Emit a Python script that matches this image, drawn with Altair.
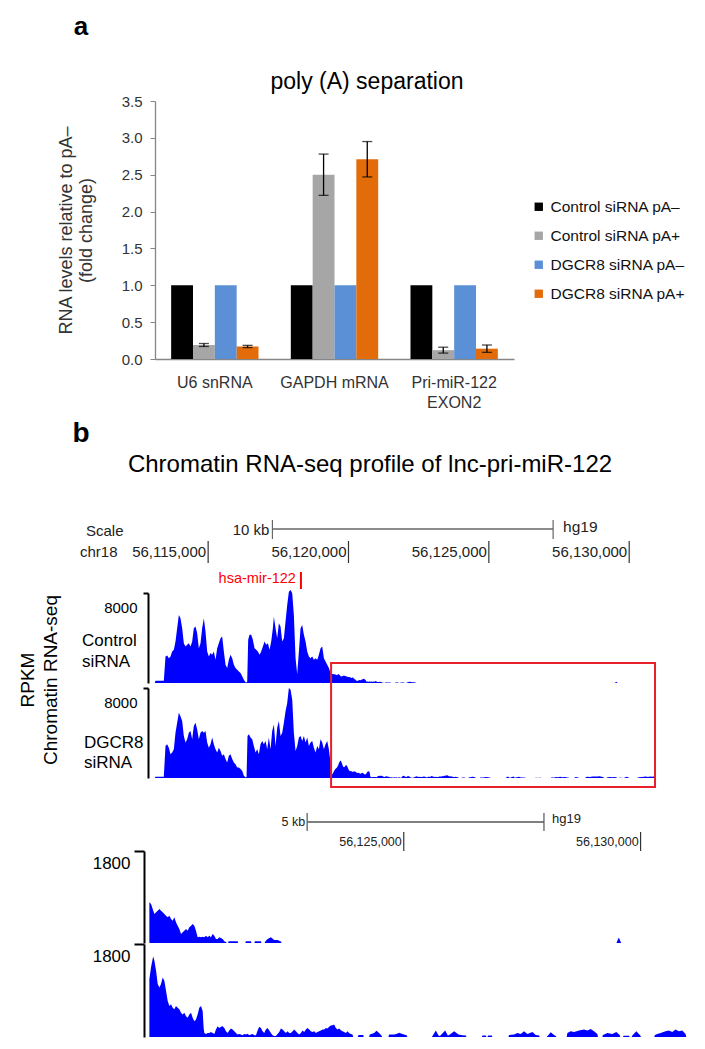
import altair as alt
import pandas as pd

REG = "Liberation Sans, Arial, sans-serif"

W, H = 689, 1033


def P(v):
    # page pixel -> plot pixel (page has an 8px margin)
    return v - 8


# ------------------------------------------------------------------ panel a data
genes = ["U6 snRNA", "GAPDH mRNA", "Pri-miR-122 EXON2"]
series = ["Control siRNA pA–", "Control siRNA pA+", "DGCR8 siRNA pA–", "DGCR8 siRNA pA+"]
series_colors = ["#000000", "#a6a6a6", "#5b8fd6", "#e36c0a"]
ctrl_minus = [1.0, 1.0, 1.0]
ctrl_plus = [0.19, 2.50, 0.12]
ctrl_plus_err = [0.02, 0.28, 0.04]
dgcr8_minus = [1.0, 1.0, 1.0]
dgcr8_plus = [0.17, 2.71, 0.14]
dgcr8_plus_err = [0.015, 0.24, 0.05]
y_ticks_a = [0.0, 0.5, 1.0, 1.5, 2.0, 2.5, 3.0, 3.5]

# ------------------------------------------------------------------ panel b data (chr18, hg19)
ctrl_block_pos = [
    56113100, 56113124, 56113421, 56113481, 56113540, 56113600, 56113659, 56113718, 56113778, 56113837,
    56113896, 56113956, 56114015, 56114075, 56114134, 56114193, 56114253, 56114312, 56114372, 56114431,
    56114490, 56114550, 56114609, 56114669, 56114728, 56114787, 56114847, 56114906, 56114966, 56115025,
    56115084, 56115144, 56115203, 56115263, 56115322, 56115381, 56115441, 56115500, 56115560, 56115619,
    56115678, 56115738, 56115797, 56115857, 56115916, 56115975, 56116035, 56116094, 56116154, 56116213,
    56116272, 56116332, 56116391, 56116427, 56116474, 56116534, 56116593, 56116653, 56116712, 56116771,
    56116831, 56116890, 56116950, 56117009, 56117068, 56117128, 56117187, 56117247, 56117306, 56117342,
    56117401, 56117460, 56117520, 56117579, 56117639, 56117698, 56117757, 56117817, 56117876, 56117936,
    56117995, 56118054, 56118114, 56118173, 56118233, 56118292, 56118351, 56118411, 56118470, 56118530,
    56118589, 56118648, 56118708, 56118767, 56118827, 56118886, 56118945, 56119005, 56119064, 56119124,
    56119183, 56119242, 56119302, 56119361, 56119420, 56119500, 56119560,
]
ctrl_block_val = [
    0, 210, 210, 2360, 2450, 2210, 2360, 2800, 2950, 3690,
    4870, 6050, 5750, 4870, 3540, 3250, 3390, 3540, 3250, 3690,
    4870, 5020, 4430, 3100, 3540, 4870, 5750, 4570, 2800, 2360,
    2660, 2510, 2800, 2070, 3100, 3540, 3980, 4130, 2800, 1620,
    1330, 2070, 2510, 2210, 1620, 1330, 1180, 1030, 890, 590,
    300, 60, 60, 3840, 4280, 4280, 3840, 3100, 2950, 2800,
    2510, 2800, 3250, 3690, 3390, 3540, 2950, 3690, 4870, 5900,
    4870, 3980, 5310, 5020, 3690, 3980, 5460, 6930, 8110, 8260,
    7970, 6050, 2210, 800, 2800, 4870, 5160, 4280, 3690, 2800,
    2360, 2210, 2360, 2070, 2210, 2070, 2510, 3100, 3250, 2210,
    1920, 1620, 1330, 890, 800, 780, 740,
]
ctrl_tail_pos = [
    56119594, 56119629, 56119664, 56119699, 56119734, 56119770, 56119805, 56119840, 56119875, 56119910,
    56119945, 56119980, 56120016, 56120051, 56120086, 56120121, 56120156, 56120191, 56120226, 56120262,
    56120297, 56120332, 56120367, 56120402, 56120437, 56120473, 56120508, 56120543, 56120578, 56120613,
    56120648, 56120683, 56120719, 56120754, 56120789, 56120824, 56120859, 56120894, 56120929, 56120965,
    56121000, 56121035, 56121070, 56121105, 56121140, 56121176, 56121211, 56121246, 56121262, 56121290,
    56121302, 56121492, 56121505, 56121655, 56121668, 56121773, 56121785, 56121845, 56121857, 56121984,
    56121996, 56122062, 56122075, 56122125, 56122195, 56122265, 56122335, 56122406, 56122420, 56129490,
    56129540, 56129590,
]
ctrl_tail_val = [
    700, 795, 763, 665, 567, 600, 632, 665, 632, 600,
    567, 535, 502, 535, 469, 437, 502, 404, 339, 274,
    176, 209, 241, 274, 241, 306, 339, 372, 339, 241,
    111, 124, 111, 124, 111, 143, 111, 143, 111, 176,
    143, 78, 78, 111, 98, 78, 33, 20, 0, 0,
    35, 35, 0, 0, 35, 35, 0, 0, 35, 35,
    0, 0, 30, 78, 111, 59, 59, 30, 0, 0,
    110, 0,
]
dgcr8_block_pos = [
    56113100, 56113124, 56113421, 56113481, 56113540, 56113600, 56113659, 56113718, 56113778, 56113837,
    56113896, 56113956, 56114015, 56114075, 56114134, 56114193, 56114253, 56114312, 56114372, 56114431,
    56114490, 56114550, 56114609, 56114669, 56114728, 56114787, 56114847, 56114906, 56114966, 56115025,
    56115084, 56115144, 56115203, 56115263, 56115322, 56115381, 56115441, 56115500, 56115560, 56115619,
    56115678, 56115738, 56115797, 56115857, 56115916, 56115975, 56116035, 56116094, 56116154, 56116213,
    56116272, 56116332, 56116368, 56116403, 56116451, 56116510, 56116569, 56116629, 56116688, 56116748,
    56116807, 56116866, 56116926, 56116985, 56117045, 56117104, 56117163, 56117223, 56117282, 56117342,
    56117401, 56117460, 56117520, 56117579, 56117639, 56117698, 56117757, 56117817, 56117876, 56117936,
    56117995, 56118054, 56118114, 56118173, 56118233, 56118292, 56118351, 56118411, 56118470, 56118530,
    56118589, 56118648, 56118708, 56118767, 56118827, 56118886, 56118945, 56119005, 56119064, 56119124,
    56119183, 56119242, 56119302, 56119361, 56119420, 56119480, 56119530,
]
dgcr8_block_val = [
    0, 120, 120, 2850, 3000, 2700, 2120, 2260, 2560, 4030,
    4910, 5790, 5500, 5060, 3730, 3150, 3440, 4030, 4170, 3440,
    4620, 4910, 4320, 3440, 4030, 4170, 4030, 4170, 3150, 2700,
    3000, 3590, 3000, 2560, 2260, 2700, 2410, 1970, 2120, 1680,
    1380, 1970, 2120, 1680, 1380, 1230, 940, 940, 790, 650,
    200, 60, 60, 3730, 3880, 3590, 3440, 2850, 2260, 2560,
    2120, 3000, 3290, 3000, 3290, 2560, 3590, 2560, 4170, 4760,
    2850, 4470, 5060, 3730, 4030, 4910, 5940, 6670, 8000, 7850,
    6970, 4030, 2410, 2850, 3590, 3730, 3290, 3730, 3150, 3590,
    2850, 3150, 3290, 2700, 2260, 2850, 2560, 3440, 3150, 2560,
    3000, 3290, 2560, 1380, 300, 600, 800,
]
dgcr8_tail_pos = [
    56119573, 56119594, 56119629, 56119664, 56119699, 56119713, 56119734, 56119770, 56119805, 56119840,
    56119875, 56119910, 56119945, 56119980, 56120016, 56120051, 56120086, 56120121, 56120156, 56120191,
    56120226, 56120262, 56120297, 56120332, 56120367, 56120402, 56120437, 56120473, 56120508, 56120543,
    56120578, 56120613, 56120648, 56120683, 56120719, 56120754, 56120775, 56120789, 56120824, 56120859,
    56120894, 56120929, 56120965, 56121000, 56121035, 56121070, 56121105, 56121140, 56121176, 56121211,
    56121246, 56121281, 56121316, 56121351, 56121386, 56121422, 56121457, 56121492, 56121527, 56121562,
    56121597, 56121632, 56121668, 56121703, 56121738, 56121773, 56121808, 56121843, 56121879, 56121914,
    56121949, 56121984, 56122019, 56122054, 56122089, 56122125, 56122160, 56122195, 56122230, 56122265,
    56122300, 56122335, 56122371, 56122406, 56122441, 56122476, 56122511, 56122546, 56122582, 56122617,
    56122652, 56122687, 56122722, 56122757, 56122792, 56122828, 56122863, 56122898, 56122933, 56122968,
    56123003, 56123038, 56123074, 56123109, 56123144, 56123179, 56123214, 56123249, 56123285, 56123320,
    56123355, 56123390, 56123425, 56123460, 56123495, 56123531, 56123566, 56123601, 56123636, 56123671,
    56123706, 56123741, 56123777, 56123812, 56123847, 56123882, 56123917, 56123935, 56124030, 56124044,
    56124142, 56124156, 56124269, 56124283, 56124374, 56124423, 56124480, 56124529, 56124545, 56124676,
    56124690, 56124796, 56124845, 56124901, 56124972, 56125060, 56125075, 56125593, 56125607, 56125677,
    56125734, 56125762, 56125804, 56125874, 56125930, 56125959, 56126064, 56126155, 56126240, 56126310,
    56126324, 56126647, 56126662, 56126732, 56126746, 56126767, 56126781, 56126858, 56126872, 56127210,
    56127224, 56127329, 56127400, 56127470, 56127540, 56127610, 56127716, 56127786, 56127857, 56127871,
    56128018, 56128046, 56128103, 56128173, 56128208, 56128222, 56128440, 56128454, 56128524, 56128595,
    56128700, 56128806, 56128876, 56128946, 56129017, 56129087, 56129101, 56129192, 56129206, 56129298,
    56129403, 56129488, 56129558, 56129572, 56129628, 56129642, 56129755, 56129769, 56129811, 56129825,
    56129910, 56129994, 56130008, 56130289, 56130303, 56130352, 56130423, 56130528, 56130598, 56130669,
    56130739, 56130809, 56130880, 56130950, 56130964,
]
dgcr8_tail_val = [
    893, 958, 1121, 1350, 1513, 1558, 1480, 1284, 1024, 958,
    1024, 1154, 1089, 893, 698, 600, 632, 567, 535, 600,
    567, 535, 469, 437, 469, 404, 372, 437, 469, 372,
    306, 339, 437, 567, 600, 502, 176, 78, 59, 78,
    78, 98, 78, 59, 143, 209, 176, 196, 209, 176,
    111, 78, 124, 163, 143, 111, 78, 46, 59, 46,
    33, 59, 46, 65, 33, 46, 59, 33, 33, 124,
    196, 176, 111, 78, 143, 176, 124, 78, 33, 20,
    20, 59, 98, 163, 143, 111, 78, 111, 78, 78,
    111, 143, 111, 78, 46, 78, 124, 98, 143, 176,
    143, 111, 98, 111, 78, 98, 111, 124, 143, 143,
    176, 163, 196, 222, 228, 241, 176, 143, 163, 130,
    111, 98, 78, 111, 78, 59, 46, 0, 0, 40,
    40, 0, 0, 46, 78, 120, 78, 30, 0, 0,
    46, 46, 59, 80, 59, 33, 0, 0, 20, 124,
    30, 20, 60, 124, 30, 40, 110, 50, 35, 30,
    0, 0, 30, 30, 0, 0, 30, 30, 0, 0,
    40, 50, 78, 60, 110, 60, 98, 40, 30, 0,
    0, 30, 91, 40, 20, 0, 0, 78, 111, 98,
    124, 143, 124, 156, 111, 60, 0, 0, 40, 78,
    60, 98, 40, 0, 0, 26, 26, 0, 0, 30,
    111, 30, 0, 0, 40, 59, 78, 111, 124, 98,
    143, 111, 124, 60, 0,
]

ruler_top_pos = [56115000, 56120000, 56125000, 56130000]
ruler_top_lab = ["56,115,000", "56,120,000", "56,125,000", "56,130,000"]
scalebar_top = [56117290, 56127290]      # 10 kb
ruler_bot_pos = [56125000, 56130000]
ruler_bot_lab = ["56,125,000", "56,130,000"]
scalebar_bot = [56122960, 56127960]      # 5 kb
mir122_pos = [56118306]
zoom_region = [56119380, 56130920]       # red box
top_max, bot_max = 8000, 1800

# ------------------------------------------------------------------ frames
rows = []
vals = {series[0]: ctrl_minus, series[1]: ctrl_plus, series[2]: dgcr8_minus, series[3]: dgcr8_plus}
errs = {series[1]: ctrl_plus_err, series[3]: dgcr8_plus_err}
for s in series:
    for i, g in enumerate(genes):
        v = vals[s][i]
        e = errs.get(s)
        rows.append({"gene": g, "series": s, "value": v,
                     "lo": (v - e[i]) if e else None, "hi": (v + e[i]) if e else None})
df_a = pd.DataFrame(rows)
df_err = df_a.dropna(subset=["lo"]).copy()

df_ctrl = pd.DataFrame({"pos": ctrl_block_pos + ctrl_tail_pos, "val": ctrl_block_val + ctrl_tail_val})
df_dg = pd.DataFrame({"pos": dgcr8_block_pos + dgcr8_tail_pos, "val": dgcr8_block_val + dgcr8_tail_val})

# ------------------------------------------------------------------ scales
XA = alt.Scale(domain=genes, range=[P(155), P(514)], paddingInner=0.27, paddingOuter=0.135)
XOA = alt.Scale(domain=series, paddingInner=0, paddingOuter=0)
YA = alt.Scale(domain=[0, 3.5], range=[P(359), P(101)], nice=False)
TOPX = alt.Scale(domain=[56113000, 56131240], range=[P(152), P(664)], nice=False, zero=False)
BOTX = alt.Scale(domain=[56119600, 56131170], range=[P(148), P(696)], nice=False, zero=False)

layers = []

# ------------------------------------------------------------------ panel a
bars = alt.Chart(df_a).mark_bar().encode(
    x=alt.X("gene:N", scale=XA, sort=genes, axis=alt.Axis(
        orient="bottom", offset=-(H - P(359)), title=None, ticks=False, labelAngle=0,
        labelFont=REG, labelFontSize=16, labelColor="#333333", labelPadding=15,
        domainColor="#868686", domainWidth=1.3, grid=False, labelLineHeight=20,
        labelExpr="datum.value == 'Pri-miR-122 EXON2' ? ['Pri-miR-122', 'EXON2'] : datum.label")),
    xOffset=alt.XOffset("series:N", scale=XOA, sort=series),
    y=alt.Y("value:Q", scale=YA, axis=alt.Axis(
        orient="left", offset=-P(155), values=y_ticks_a, format=".1f",
        title=["RNA levels relative to pA–", "(fold change)"],
        titleFont=REG, titleFontSize=18, titleFontWeight="normal", titleColor="#333333",
        titlePadding=26, labelFont=REG, labelFontSize=15, labelColor="#333333", labelPadding=8,
        tickSize=5, tickColor="#868686", domainColor="#868686", domainWidth=1.3, grid=False)),
    color=alt.Color("series:N", scale=alt.Scale(domain=series, range=series_colors), legend=alt.Legend(
        orient="none", legendX=P(531), legendY=P(199), title=None, symbolType="square",
        symbolSize=70, symbolStrokeWidth=0, labelFont=REG, labelFontSize=15.5,
        labelColor="#111111", rowPadding=12, labelOffset=4)),
)
err_rule = alt.Chart(df_err).mark_rule(color="black", strokeWidth=1.3).encode(
    x=alt.X("gene:N", scale=XA, axis=None),
    xOffset=alt.XOffset("series:N", scale=XOA),
    y=alt.Y("lo:Q", scale=YA, axis=None),
    y2="hi:Q",
)
cap_lo = alt.Chart(df_err).mark_tick(color="black", thickness=1.3, size=10, orient="horizontal").encode(
    x=alt.X("gene:N", scale=XA, axis=None),
    xOffset=alt.XOffset("series:N", scale=XOA),
    y=alt.Y("lo:Q", scale=YA, axis=None),
)
cap_hi = alt.Chart(df_err).mark_tick(color="black", thickness=1.3, size=10, orient="horizontal").encode(
    x=alt.X("gene:N", scale=XA, axis=None),
    xOffset=alt.XOffset("series:N", scale=XOA),
    y=alt.Y("hi:Q", scale=YA, axis=None),
)
layers += [bars, err_rule, cap_lo, cap_hi]


def note(text, x, y, size, color="black", align="center", baseline="middle",
         angle=0, weight="normal"):
    kw = dict(fontSize=size, font=REG, color=color, align=align, baseline=baseline, fontWeight=weight)
    if angle:
        kw["angle"] = angle
    return alt.Chart(pd.DataFrame({"t": [text]})).mark_text(**kw).encode(
        x=alt.value(P(x)), y=alt.value(P(y)), text="t:N")


layers += [
    note("a", 81, 27, 26, weight="bold"),
    note("poly (A) separation", 367, 82, 23),
    note("b", 81, 434, 28, weight="bold"),
    note("Chromatin RNA-seq profile of lnc-pri-miR-122", 370, 465, 24),
    note("Scale", 86, 531, 15, color="#222222", align="left"),
    note("chr18", 80, 552, 15, color="#222222", align="left"),
    note("RPKM", 28, 680, 19, angle=270),
    note("Chromatin RNA-seq", 51, 680, 19, angle=270),
    note("Control", 82, 641, 17, align="left"),
    note("siRNA", 82, 662, 17, align="left"),
    note("DGCR8", 84, 743, 17, align="left"),
    note("siRNA", 84, 763, 17, align="left"),
]

# ------------------------------------------------------------------ rulers
df_rt = pd.DataFrame({"pos": ruler_top_pos, "lab": ruler_top_lab})
df_sbt = pd.DataFrame({"start": [scalebar_top[0]], "end": [scalebar_top[1]], "lab": ["10 kb"], "asm": ["hg19"]})
df_sbt_ends = pd.DataFrame({"pos": scalebar_top})
df_rb = pd.DataFrame({"pos": ruler_bot_pos, "lab": ruler_bot_lab})
df_sbb = pd.DataFrame({"start": [scalebar_bot[0]], "end": [scalebar_bot[1]], "lab": ["5 kb"], "asm": ["hg19"]})
df_sbb_ends = pd.DataFrame({"pos": scalebar_bot})
df_mir = pd.DataFrame({"pos": mir122_pos, "lab": ["hsa-mir-122"]})
df_box = pd.DataFrame({"start": [zoom_region[0]], "end": [zoom_region[1]]})


def xq(field, scale):
    return alt.X(field, type="quantitative", scale=scale, axis=None)


layers += [
    # top ruler
    alt.Chart(df_rt).mark_rule(color="#333333", strokeWidth=1.2).encode(
        x=xq("pos", TOPX), y=alt.value(P(541)), y2=alt.value(P(563))),
    alt.Chart(df_rt).mark_text(align="right", dx=-2, font=REG, fontSize=15, color="#222222").encode(
        x=xq("pos", TOPX), y=alt.value(P(552)), text="lab:N"),
    alt.Chart(df_sbt).mark_rule(color="#666666", strokeWidth=1.6).encode(
        x=xq("start", TOPX), x2="end:Q", y=alt.value(P(529))),
    alt.Chart(df_sbt_ends).mark_rule(color="#666666", strokeWidth=1.2).encode(
        x=xq("pos", TOPX), y=alt.value(P(520)), y2=alt.value(P(539))),
    alt.Chart(df_sbt).mark_text(align="right", dx=-3, font=REG, fontSize=15, color="#222222").encode(
        x=xq("start", TOPX), y=alt.value(P(530)), text="lab:N"),
    alt.Chart(df_sbt).mark_text(align="left", dx=10, font=REG, fontSize=15.5, color="#222222").encode(
        x=xq("end", TOPX), y=alt.value(P(527)), text="asm:N"),
    alt.Chart(df_mir).mark_rule(color="#ff0000", strokeWidth=2).encode(
        x=xq("pos", TOPX), y=alt.value(P(572)), y2=alt.value(P(589))),
    alt.Chart(df_mir).mark_text(align="right", dx=-5, font=REG, fontSize=14.5, color="#ff0000").encode(
        x=xq("pos", TOPX), y=alt.value(P(579)), text="lab:N"),
    # bottom ruler
    alt.Chart(df_rb).mark_rule(color="#333333", strokeWidth=1.2).encode(
        x=xq("pos", BOTX), y=alt.value(P(832)), y2=alt.value(P(851))),
    alt.Chart(df_rb).mark_text(align="right", dx=-2, font=REG, fontSize=12.5, color="#222222").encode(
        x=xq("pos", BOTX), y=alt.value(P(842)), text="lab:N"),
    alt.Chart(df_sbb).mark_rule(color="#555555", strokeWidth=1.4).encode(
        x=xq("start", BOTX), x2="end:Q", y=alt.value(P(822))),
    alt.Chart(df_sbb_ends).mark_rule(color="#555555", strokeWidth=1.2).encode(
        x=xq("pos", BOTX), y=alt.value(P(813)), y2=alt.value(P(831))),
    alt.Chart(df_sbb).mark_text(align="right", dx=-2, font=REG, fontSize=12.5, color="#222222").encode(
        x=xq("start", BOTX), y=alt.value(P(822)), text="lab:N"),
    alt.Chart(df_sbb).mark_text(align="left", dx=8, font=REG, fontSize=13, color="#222222").encode(
        x=xq("end", BOTX), y=alt.value(P(819)), text="asm:N"),
]


# ------------------------------------------------------------------ tracks
def track(df, xscale, ymax, base, top, bracket_x, tick, lab_off, lab_size, lab_pad):
    return alt.Chart(df).mark_area(color="#0000ff", interpolate="linear").encode(
        x=xq("pos", xscale),
        y=alt.Y("val:Q", scale=alt.Scale(domain=[0, ymax], range=[P(base), P(top)], nice=False),
                axis=alt.Axis(orient="left", offset=-P(bracket_x), values=[ymax], format="d",
                              title=None, grid=False, domainColor="black", domainWidth=2,
                              tickColor="black", tickWidth=2, tickSize=tick,
                              labelFont=REG, labelFontSize=lab_size, labelColor="black",
                              labelBaseline="middle", labelOffset=lab_off, labelPadding=lab_pad)),
    )


layers += [
    track(df_ctrl, TOPX, top_max, 683, 593, 148, 5, 14, 15, 6),
    track(df_dg, TOPX, top_max, 778, 688, 148, 5, 14, 15, 6),
    track(df_ctrl[df_ctrl["pos"] >= BOTX.domain[0]], BOTX, bot_max, 943, 851, 144, 10, 12, 17, 4),
    track(df_dg[df_dg["pos"] >= BOTX.domain[0]], BOTX, bot_max, 1037, 944, 144, 10, 12, 17, 4),
    alt.Chart(df_box).mark_rect(fillOpacity=0, stroke="#e8202a", strokeWidth=2).encode(
        x=xq("start", TOPX), x2="end:Q", y=alt.value(P(663)), y2=alt.value(P(787))),
]

chart = alt.layer(*layers).resolve_scale(
    x="independent", y="independent", xOffset="independent", color="independent"
).properties(
    width=W, height=H, autosize=alt.AutoSizeParams(type="none"), padding=0
).configure_view(strokeWidth=0)

chart.save("out.html", embed_options={"renderer": "svg", "actions": False})
